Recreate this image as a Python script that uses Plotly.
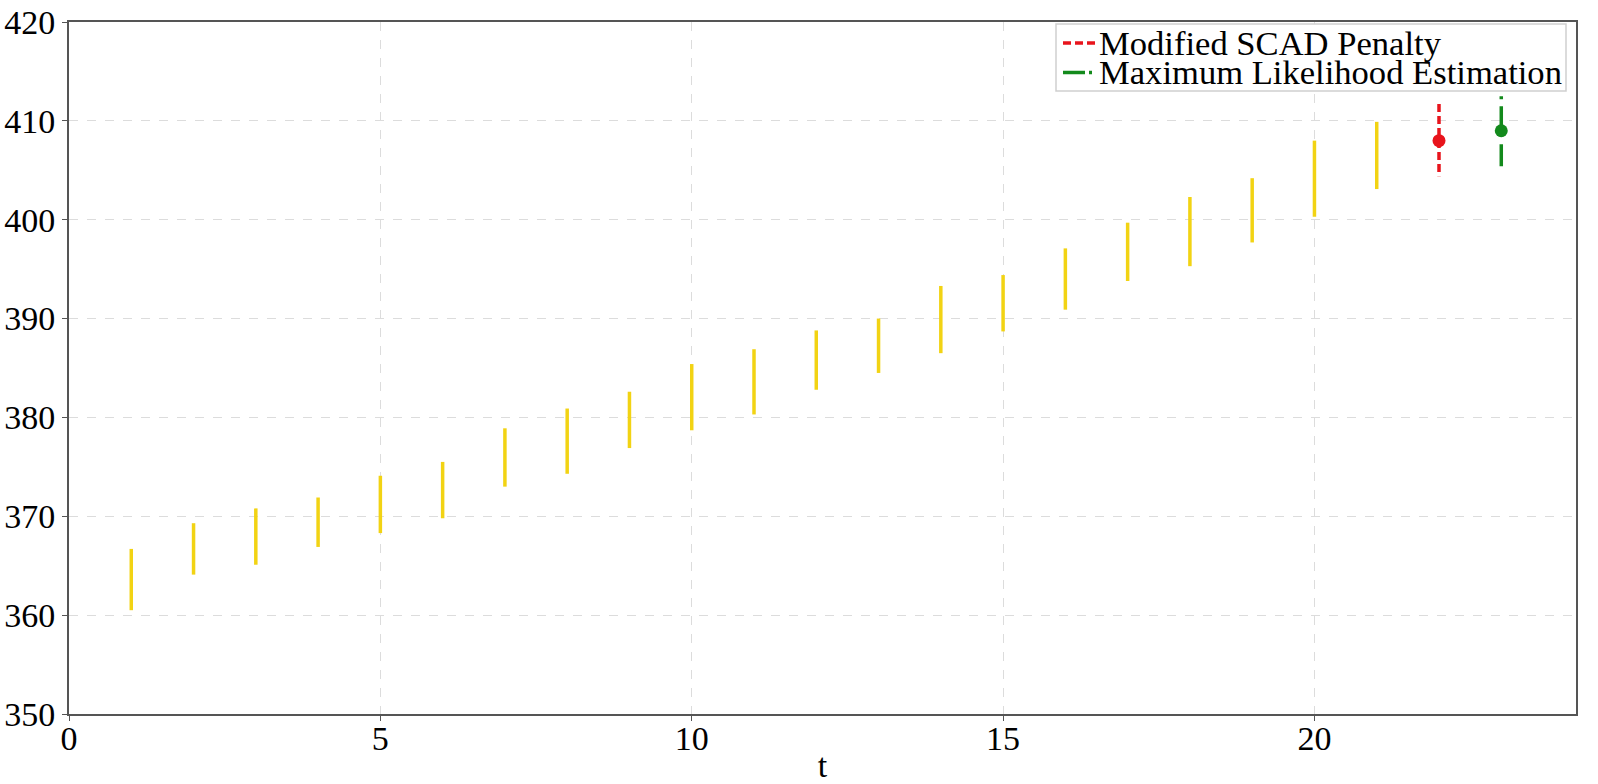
import plotly.graph_objects as go

t = list(range(1, 22))
lower = [360.5, 364.1, 365.1, 366.9, 368.3, 369.8, 373.0, 374.3, 376.9, 378.7,
         380.3, 382.8, 384.5, 386.5, 388.7, 390.9, 393.8, 395.3, 397.7, 400.3, 403.1]
upper = [366.7, 369.3, 370.8, 371.9, 374.1, 375.5, 378.9, 380.9, 382.6, 385.4,
         386.9, 388.8, 390.0, 393.3, 394.4, 397.1, 399.7, 402.3, 404.2, 408.0, 409.9]

scad_t = 22
scad_lower, scad_est, scad_upper = 404.4, 408.0, 411.7
mle_t = 23
mle_lower, mle_est, mle_upper = 405.4, 409.0, 412.5

series_names = ["Modified SCAD Penalty", "Maximum Likelihood Estimation"]
x_ticks = [0, 5, 10, 15, 20]
y_ticks = [350, 360, 370, 380, 390, 400, 410, 420]

FONT = "Times New Roman, Liberation Serif, serif"
YELLOW = "#f2d313"
RED = "#e8141c"
GREEN = "#138a1c"
RED_DASH = "8px,4px"
GREEN_DASH = "3px,7px,28px,10px,30px,7px"

xs, ys = [], []
for ti, lo, hi in zip(t, lower, upper):
    xs += [ti, ti, None]
    ys += [lo, hi, None]

fig = go.Figure()
fig.add_trace(go.Scatter(x=xs, y=ys, mode="lines", line=dict(color=YELLOW, width=3.5),
                         showlegend=False, hoverinfo="skip", name="intervals"))
fig.add_trace(go.Scatter(x=[scad_t, scad_t], y=[scad_upper, scad_lower], mode="lines",
                         line=dict(color=RED, width=3.5, dash=RED_DASH),
                         name=series_names[0], showlegend=False))
fig.add_trace(go.Scatter(x=[scad_t], y=[scad_est], mode="markers",
                         marker=dict(color=RED, size=13), showlegend=False,
                         name=series_names[0]))
fig.add_trace(go.Scatter(x=[mle_t, mle_t], y=[mle_upper, mle_lower], mode="lines",
                         line=dict(color=GREEN, width=3.5, dash=GREEN_DASH),
                         name=series_names[1], showlegend=False))
fig.add_trace(go.Scatter(x=[mle_t], y=[mle_est], mode="markers",
                         marker=dict(color=GREEN, size=13), showlegend=False,
                         name=series_names[1]))

axis_common = dict(
    showline=True, linecolor="#555555", linewidth=2, mirror=True,
    showgrid=True, gridcolor="#dcdcdc", griddash="dash", gridwidth=1,
    ticks="outside", ticklen=5, tickcolor="#555555",
    tickfont=dict(family=FONT, size=34, color="black"),
    zeroline=False, automargin=False,
)

W, H = 1598, 784
ML, MR, MT, MB = 69, 22, 22, 70
pw, ph = W - ML - MR, H - MT - MB


def px_to_paper(px, py):
    return (px - ML) / pw, 1 - (py - MT) / ph


# compact legend box (shapes + text, sized like the reference)
bx0, by0 = px_to_paper(1056, 24)
bx1, by1 = px_to_paper(1566, 91)
shapes = [dict(type="rect", xref="paper", yref="paper", x0=bx0, x1=bx1, y0=by1, y1=by0,
               line=dict(color="#cfcfcf", width=1.5), fillcolor="white", layer="above")]
annotations = []
legend_dash = [RED_DASH, "22px,4px,3px,4px"]
for i, (name, color, dash) in enumerate(zip(series_names, [RED, GREEN], legend_dash)):
    cy = 43 + i * 29.5
    lx0, ly = px_to_paper(1063, cy)
    lx1, _ = px_to_paper(1096, cy)
    shapes.append(dict(type="line", xref="paper", yref="paper", x0=lx0, x1=lx1, y0=ly, y1=ly,
                       line=dict(color=color, width=3.5, dash=dash), layer="above"))
    tx, ty = px_to_paper(1097, cy)
    annotations.append(dict(xref="paper", yref="paper", x=tx, y=ty, xanchor="left",
                            yanchor="middle", text=name, showarrow=False,
                            font=dict(family=FONT, size=34.6, color="black")))

fig.update_layout(
    width=W, height=H,
    margin=dict(l=ML, r=MR, t=MT, b=MB),
    paper_bgcolor="white", plot_bgcolor="white",
    font=dict(family=FONT, color="black"),
    xaxis=dict(range=[0, 24.2], tickvals=x_ticks, ticktext=[str(v) for v in x_ticks],
               ticklabelstandoff=-12,
               title=dict(text="t", font=dict(family=FONT, size=34), standoff=12),
               **axis_common),
    yaxis=dict(range=[350, 420], tickvals=y_ticks, ticktext=[str(v) for v in y_ticks],
               **axis_common),
    showlegend=False,
    shapes=shapes,
    annotations=annotations,
)

fig.write_html("out.html", config={"displayModeBar": False},
               post_script="document.body.style.margin='0';")
